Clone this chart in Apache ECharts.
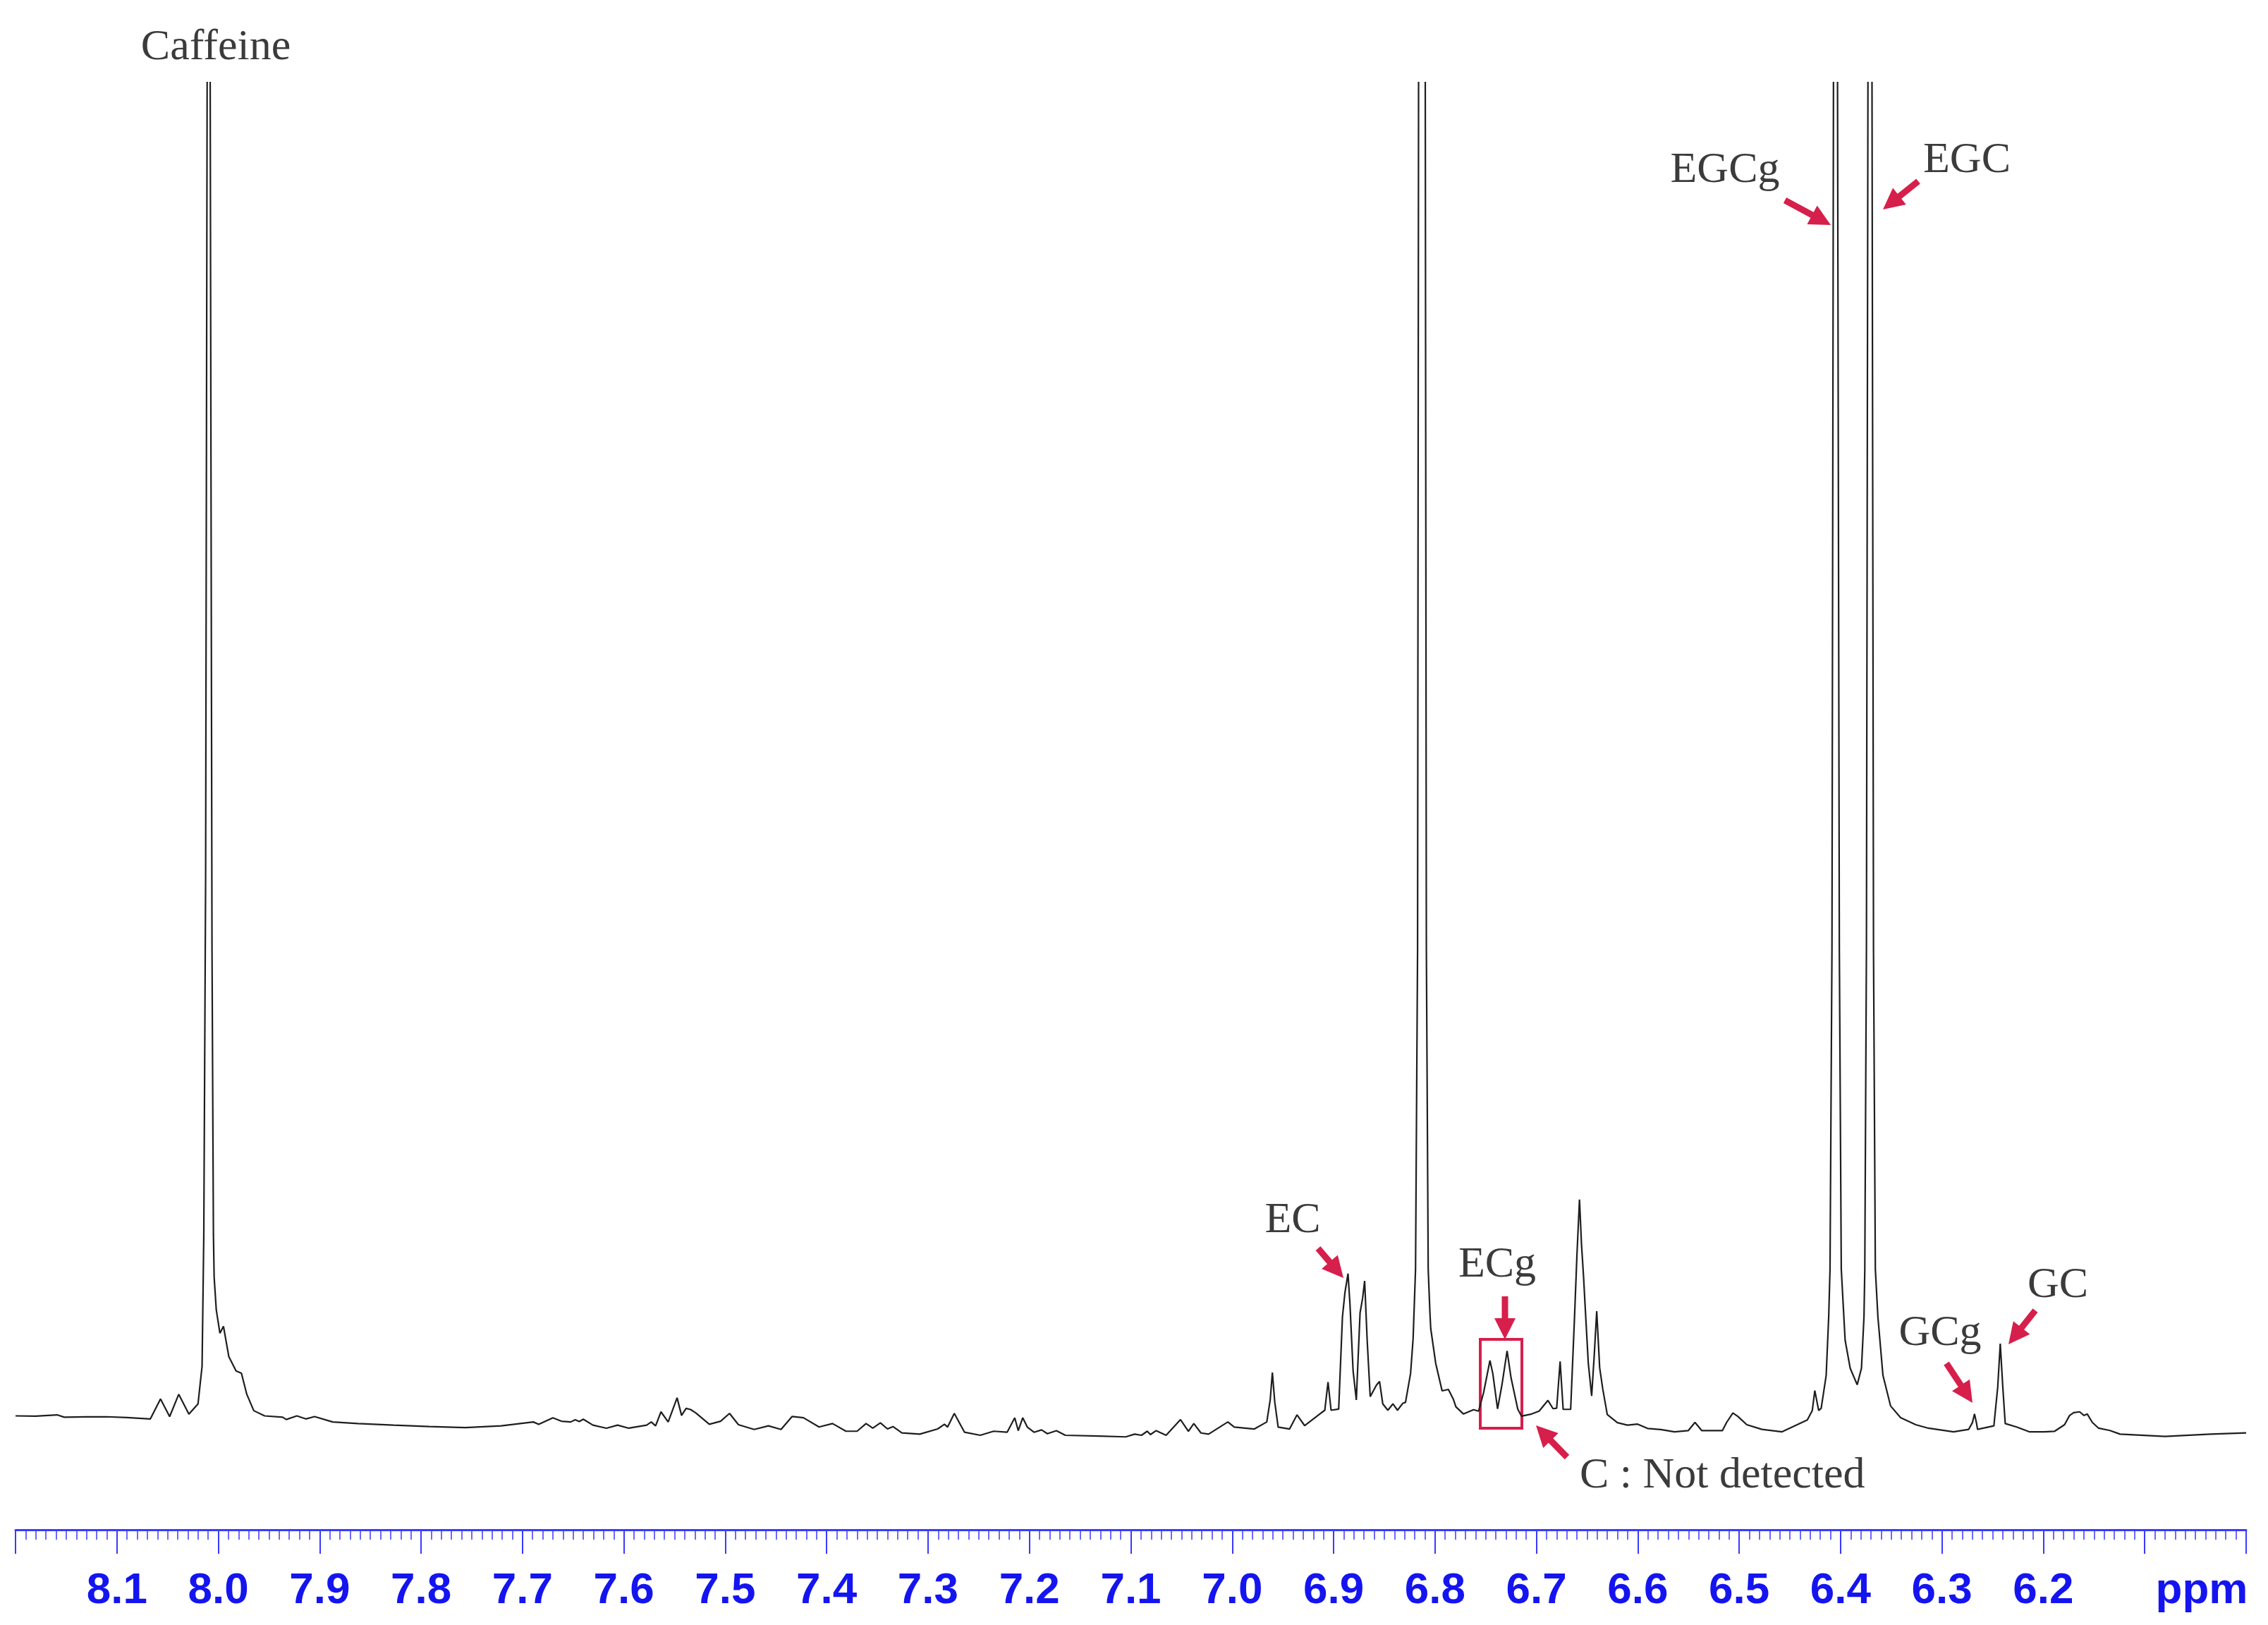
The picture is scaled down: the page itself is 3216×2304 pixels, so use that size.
<!DOCTYPE html>
<html>
<head>
<meta charset="utf-8">
<title>1H NMR - catechins</title>
<script src="https://cdn.jsdelivr.net/npm/echarts@6/dist/echarts.min.js"></script>
<style>
  html, body { margin: 0; padding: 0; background: #fff; }
  #nmrChart { width: 3216px; height: 2304px; }
</style>
</head>
<body>
<div id="nmrChart"></div>
<script>
var shiftPpm = [
  8.200, 8.180, 8.159, 8.152, 8.130, 8.110, 8.090, 8.067, 8.057, 8.048,
  8.039, 8.029, 8.020, 8.016, 8.0143, 8.0125, 8.0110, 8.0095, 8.0080, 8.0062,
  8.0048, 8.0041, 8.002, 7.9984, 7.9949, 7.9896, 7.9825, 7.9772, 7.9719, 7.965,
  7.9543, 7.9365, 7.933, 7.9225, 7.9137, 7.905, 7.8872, 7.8624, 7.827, 7.792,
  7.7564, 7.721, 7.6893, 7.684, 7.670, 7.6616, 7.6525, 7.648, 7.644, 7.640,
  7.6305, 7.6172, 7.6062, 7.5952, 7.5775, 7.573, 7.5687, 7.5634, 7.5563, 7.5475,
  7.5431, 7.5386, 7.5342, 7.529, 7.5157, 7.5046, 7.4958, 7.487, 7.4715, 7.4574,
  7.445, 7.434, 7.4229, 7.4075, 7.3942, 7.381, 7.370, 7.3611, 7.3545, 7.347,
  7.340, 7.3346, 7.3258, 7.3081, 7.2905, 7.2838, 7.2807, 7.2741, 7.264, 7.2485,
  7.2353, 7.222, 7.2145, 7.211, 7.2066, 7.2021, 7.1955, 7.188, 7.1823, 7.1734,
  7.1646, 7.1315, 7.105, 7.0962, 7.0895, 7.0838, 7.0807, 7.075, 7.0652, 7.051,
  7.0432, 7.0379, 7.0308, 7.0233, 7.0123, 7.0043, 6.9980, 6.9784, 6.9659, 6.9625,
  6.9604, 6.9580, 6.9547, 6.9435, 6.9361, 6.9286, 6.9137, 6.9087, 6.9055, 6.9025,
  6.8950, 6.8913, 6.8888, 6.8858, 6.8838, 6.8808, 6.8776, 6.8739, 6.8714, 6.8694,
  6.8669, 6.8639, 6.8577, 6.8547, 6.8515, 6.8465, 6.8415, 6.8370, 6.8316, 6.8291,
  6.8241, 6.8216, 6.8192, 6.8172, 6.8162, 6.8129, 6.8096, 6.8085, 6.8067, 6.8050,
  6.8042, 6.7993, 6.7930, 6.7868, 6.7818, 6.7794, 6.7719, 6.7620, 6.7570, 6.7520,
  6.7458, 6.7430, 6.7383, 6.7340, 6.7289, 6.7250, 6.7184, 6.7147, 6.7047, 6.6973,
  6.6886, 6.6836, 6.6800, 6.6766, 6.6736, 6.6662, 6.6624, 6.6600, 6.6575, 6.6555,
  6.6535, 6.6520, 6.6488, 6.6455, 6.6430, 6.6405, 6.6376, 6.6346, 6.6301, 6.6201,
  6.6102, 6.6002, 6.5903, 6.5773, 6.5638, 6.5503, 6.5436, 6.5368, 6.5166, 6.5124,
  6.5062, 6.5012, 6.4925, 6.4776, 6.4577, 6.4428, 6.4328, 6.4279, 6.4254, 6.4216,
  6.4191, 6.4142, 6.4117, 6.4104, 6.4085, 6.4070, 6.4050, 6.4030, 6.4012, 6.3993,
  6.3955, 6.3905, 6.3836, 6.3794, 6.3769, 6.3761, 6.3745, 6.3730, 6.3710, 6.3690,
  6.3675, 6.3657, 6.3632, 6.3582, 6.3507, 6.3408, 6.3259, 6.3134, 6.2886, 6.2736,
  6.2700, 6.2679, 6.2660, 6.2649, 6.2488, 6.2450, 6.2425, 6.2400, 6.2376, 6.2264,
  6.2139, 6.1990, 6.1891, 6.1791, 6.1741, 6.1700, 6.1642, 6.1600, 6.1567, 6.1517,
  6.1455, 6.1343, 6.1244, 6.0800, 6.0350, 6.0000
];

// signal intensity (arb. units, 1000 = top of the frame; bigger ones run off the top)
var intensity = [
  78.7, 78.5, 79.4, 77.8, 78.0, 78.1, 77.5, 76.6, 90.4, 78.2,
  93.6, 79.9, 87, 113, 204, 450, 1000, 1600, 1000, 400,
  204, 174.6, 152, 135.8, 140.6, 119.6, 109.8, 108.2, 93.6, 82.3,
  78.7, 77.8, 76.2, 78.7, 76.6, 78.2, 74.5, 73.4, 72.3, 71.3,
  70.6, 71.8, 74.5, 72.9, 77.4, 75, 74.5, 76, 74.8, 76.4,
  72.3, 70.2, 72.3, 70.2, 72.3, 74.5, 71.8, 81.5, 74.5, 91.2,
  79, 83.9, 83.1, 80.7, 72.9, 75, 80.4, 72.6, 69.3, 71.8,
  69.3, 78.3, 77.4, 71, 73.4, 68.1, 68.1, 73.4, 70.2, 73.9,
  69.7, 71.3, 66.9, 66.1, 69.7, 72.9, 71, 80.4, 67.4, 65.3,
  68.1, 67.4, 77.4, 68.5, 77.4, 71, 67.4, 69, 66.4, 68.5,
  65.3, 64.8, 64.2, 66.1, 65.3, 68.1, 65.8, 68.5, 65.3, 76.1,
  68.1, 73.4, 66.9, 66.1, 71, 74.5, 71, 69.6, 74.5, 90,
  108.6, 88, 71, 69.6, 79.4, 72, 80, 82.6, 102, 82.6,
  83.4, 147, 164, 177, 155, 110, 89.7, 150, 160, 172,
  131, 92, 100, 102.5, 87, 82.6, 87, 82.6, 87.5, 88,
  108, 132, 180, 400, 1000, 2400, 1000, 400, 180, 150,
  139, 115, 96, 97, 90, 85, 80, 83, 82, 95,
  117, 108, 83.5, 100, 123.6, 105, 83.5, 78.5, 80, 82,
  89.4, 83.7, 84, 116.3, 83.2, 83.2, 147, 190, 228.2, 197,
  175, 155.5, 115, 92.5, 120, 151, 112, 97.5, 79.6, 74,
  72.3, 73, 70, 69.3, 67.7, 68.5, 74.2, 68.5, 68.5, 74.2,
  80.7, 78.3, 72.6, 69.4, 67.7, 72.6, 75.9, 82.4, 96.2, 82.4,
  84, 106.7, 147.3, 180, 400, 1000, 2400, 1000, 400, 180,
  131, 111.6, 100.2, 111.6, 147.3, 180, 400, 1000, 2400, 1000,
  400, 180, 147.3, 106.7, 85.6, 77.5, 72.6, 70.2, 67.7, 69.4,
  74, 80, 74, 69.4, 71.8, 98.6, 128.6, 98.6, 73.4, 71,
  67.7, 67.7, 68, 72.6, 79, 81, 81.5, 79, 80, 74.2,
  70.2, 68.6, 66.1, 64.5, 66.1, 66.9
];

var tickLabels = ['8.1', '8.0', '7.9', '7.8', '7.7', '7.6', '7.5', '7.4', '7.3', '7.2',
  '7.1', '7.0', '6.9', '6.8', '6.7', '6.6', '6.5', '6.4', '6.3', '6.2'];
var axisUnit = 'ppm';

// compound names
var peakNames = ['Caffeine', 'EGCg', 'EGC', 'EC', 'ECg', 'C : Not detected', 'GCg', 'GC'];

/* ----------------------------------------------------------------
 layout of the annotations (page px)
 -----------------------------------------------------------------*/
var labelPos = [
  { x: 306, y: 68, align: 'center' },
  { x: 2446, y: 242, align: 'center' },
  { x: 2789, y: 228, align: 'center' },
  { x: 1833, y: 1731, align: 'center' },
  { x: 2123, y: 1794, align: 'center' },
  { x: 2240, y: 2093, align: 'left' },
  { x: 2751, y: 1891, align: 'center' },
  { x: 2918, y: 1823, align: 'center' }
];
// [tailX, tailY, tipX, tipY]
var arrowPos = [
  [2531, 284, 2596, 319],
  [2720, 257, 2670, 297],
  [1869, 1770, 1905, 1812],
  [2134, 1838, 2134, 1899],
  [2222, 2066, 2178, 2021],
  [2760, 1933, 2797, 1989],
  [2886, 1858, 2848, 1906]
];
var RED = '#d61f4b';
var BLUE = '#1414f0';

function makeArrow(a) {
  var x1 = a[0], y1 = a[1], x2 = a[2], y2 = a[3];
  var dx = x2 - x1, dy = y2 - y1;
  var len = Math.sqrt(dx * dx + dy * dy);
  var ux = dx / len, uy = dy / len;
  var px = -uy, py = ux;
  var headLen = 30, headHalf = 15;
  var bx = x2 - ux * headLen, by = y2 - uy * headLen;
  return [
    {
      type: 'line',
      shape: { x1: x1, y1: y1, x2: bx + ux * 2, y2: by + uy * 2 },
      style: { stroke: RED, lineWidth: 9 }
    },
    {
      type: 'polygon',
      shape: { points: [[x2, y2], [bx + px * headHalf, by + py * headHalf], [bx - px * headHalf, by - py * headHalf]] },
      style: { fill: RED }
    }
  ];
}

var graphics = [];
peakNames.forEach(function (name, i) {
  graphics.push({
    type: 'text',
    style: {
      text: name,
      x: labelPos[i].x,
      y: labelPos[i].y,
      align: labelPos[i].align,
      verticalAlign: 'middle',
      font: '62px "Liberation Serif", "Times New Roman", serif',
      fill: '#3b3b3b'
    }
  });
});
arrowPos.forEach(function (a) {
  graphics = graphics.concat(makeArrow(a));
});
// box round the ECg doublet
graphics.push({
  type: 'rect',
  shape: { x: 2099, y: 1899, width: 59, height: 126 },
  style: { fill: 'none', stroke: RED, lineWidth: 4 }
});
// unit at the right end of the axis
graphics.push({
  type: 'text',
  style: {
    text: axisUnit,
    x: 3122,
    y: 2225,
    align: 'center',
    verticalAlign: 'top',
    font: 'bold 62px "Liberation Sans Narrow", "Liberation Sans", Arial, sans-serif',
    fill: BLUE
  }
});

var spectrum = shiftPpm.map(function (p, i) {
  return [p, intensity[i]];
});

var myChart = echarts.init(document.getElementById('nmrChart'));
var option = {
  backgroundColor: '#fff',
  animation: false,
  grid: { left: 22, right: 31, top: 117, bottom: 135 },
  xAxis: {
    type: 'value',
    inverse: true,
    min: 6.0,
    max: 8.2,
    interval: 0.1,
    splitLine: { show: false },
    axisLine: { lineStyle: { color: '#3a3aff', width: 3 } },
    axisTick: { length: 34, lineStyle: { color: '#3a3aff', width: 2 } },
    minorTick: { show: true, splitNumber: 10, length: 14, lineStyle: { color: '#3a3aff', width: 1.5 } },
    minorSplitLine: { show: false },
    axisLabel: {
      margin: 56,
      color: BLUE,
      fontSize: 62,
      fontWeight: 'bold',
      fontFamily: '"Liberation Sans Narrow", "Liberation Sans", Arial, sans-serif',
      formatter: function (value) {
        var s = value.toFixed(1);
        return tickLabels.indexOf(s) >= 0 ? s : '';
      }
    }
  },
  yAxis: {
    type: 'value',
    min: 0,
    max: 1000,
    show: false
  },
  series: [{
    type: 'line',
    data: spectrum,
    showSymbol: false,
    clip: true,
    sampling: null,
    lineStyle: { color: '#1e1e1e', width: 2.2 },
    silent: true
  }],
  graphic: graphics
};
myChart.setOption(option);
</script>
</body>
</html>
